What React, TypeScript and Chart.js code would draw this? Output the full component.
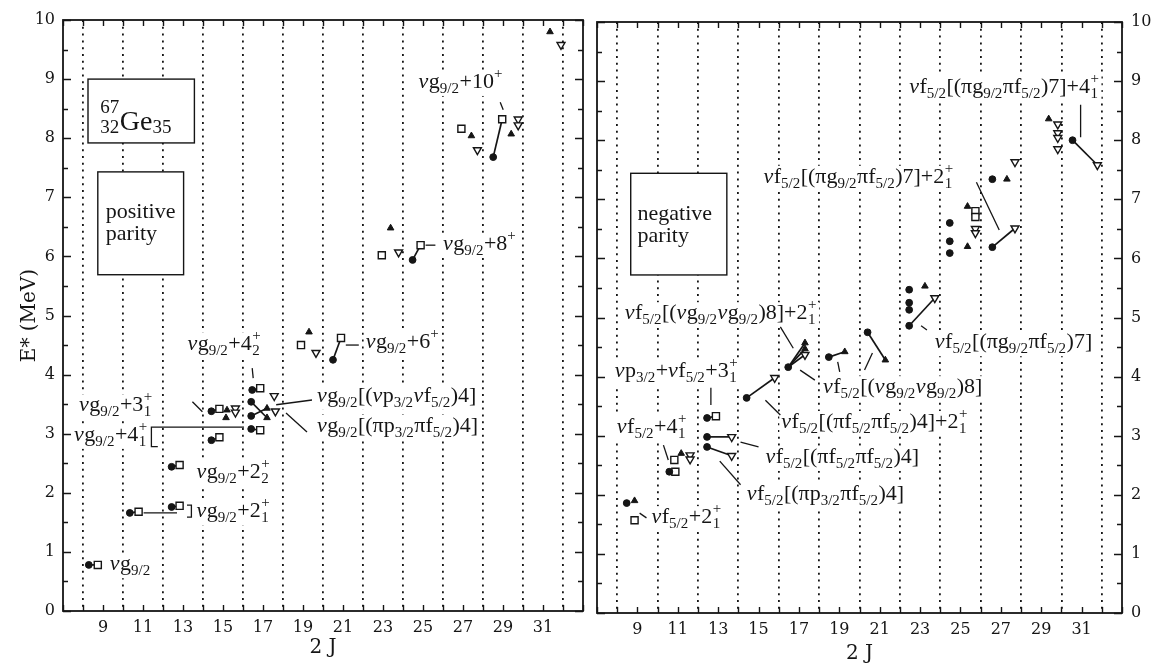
import React, { useEffect, useRef } from 'react';
import { Chart, registerables } from 'chart.js';
Chart.register(...registerables);

type P = [number, number];
type L = [number, number, number, number];

// ---------------- tick labels ----------------
const xTickLabels = [9, 11, 13, 15, 17, 19, 21, 23, 25, 27, 29, 31];
const yTickLabels = [0, 1, 2, 3, 4, 5, 6, 7, 8, 9, 10];

// ---------------- positive parity (left panel) ----------------
const posExp: P[] = [
  [8.29, 0.78], [10.34, 1.66], [12.43, 1.76], [12.43, 2.44], [14.42, 2.89], [14.42, 3.38],
  [16.41, 3.08], [16.41, 3.30], [16.41, 3.54], [16.46, 3.74], [20.5, 4.25], [24.48, 5.94], [28.51, 7.68],
];
const posSquare: P[] = [
  [8.74, 0.78], [10.78, 1.68], [12.83, 1.78], [12.83, 2.47], [14.82, 2.94], [14.82, 3.42],
  [16.86, 3.06], [16.86, 3.77], [18.9, 4.5], [20.9, 4.62], [22.94, 6.02], [24.88, 6.19],
  [26.92, 8.16], [28.96, 8.32],
];
const posTriUp: P[] = [
  [15.2, 3.40], [15.15, 3.27], [17.2, 3.27], [17.2, 3.43], [19.3, 4.72], [23.38, 6.48],
  [27.42, 8.04], [29.41, 8.07], [31.35, 9.8],
];
const posTriDown: P[] = [
  [15.62, 3.43], [15.62, 3.36], [17.56, 3.64], [17.62, 3.38], [19.65, 4.37], [23.78, 6.07],
  [27.72, 7.8], [29.76, 8.32], [29.76, 8.22], [31.9, 9.58],
];
const posLinks: L[] = [
  [8.29, 0.78, 8.74, 0.78], [10.34, 1.66, 10.78, 1.68], [12.43, 1.76, 12.83, 1.78],
  [12.43, 2.44, 12.83, 2.47], [14.42, 2.89, 14.82, 2.94], [14.42, 3.38, 14.82, 3.42],
  [16.41, 3.08, 16.86, 3.06], [16.46, 3.74, 16.86, 3.77], [16.41, 3.54, 17.2, 3.27],
  [16.41, 3.30, 17.2, 3.43], [20.5, 4.25, 20.9, 4.62], [24.48, 5.94, 24.88, 6.19],
  [28.51, 7.68, 28.96, 8.32],
];

// ---------------- negative parity (right panel) ----------------
const negExp: P[] = [
  [8.47, 1.86], [10.58, 2.39], [12.45, 2.81], [12.45, 2.98], [12.45, 3.30], [14.41, 3.64],
  [16.47, 4.16], [18.48, 4.33], [20.4, 4.75], [22.46, 4.86], [22.46, 5.13], [22.46, 5.25],
  [22.46, 5.47], [24.47, 6.09], [24.47, 6.29], [24.47, 6.6], [26.58, 6.19], [26.58, 7.34],
  [30.55, 8.0],
];
const negSquare: P[] = [
  [8.86, 1.57], [10.88, 2.39], [10.83, 2.59], [12.89, 3.33], [25.74, 6.80], [25.74, 6.70],
];
const negTriUp: P[] = [
  [8.86, 1.90], [11.17, 2.70], [17.3, 4.57], [17.3, 4.47], [19.27, 4.42], [21.28, 4.28],
  [23.24, 5.53], [25.35, 6.2], [25.35, 6.88], [27.3, 7.34], [29.37, 8.36],
];
const negTriDown: P[] = [
  [11.61, 2.67], [11.61, 2.60], [13.67, 2.98], [13.67, 2.66], [15.8, 3.98], [17.3, 4.37],
  [23.73, 5.33], [25.74, 6.50], [25.74, 6.43], [27.7, 6.51], [27.7, 7.63], [29.82, 8.27],
  [29.82, 8.12], [29.82, 8.04], [29.82, 7.85], [31.78, 7.58],
];
const negLinks: L[] = [
  [10.58, 2.39, 10.88, 2.39], [12.45, 3.30, 12.89, 3.33], [12.45, 2.98, 13.67, 2.98],
  [12.45, 2.81, 13.67, 2.66], [14.41, 3.64, 15.8, 3.98], [16.47, 4.16, 17.3, 4.57],
  [16.47, 4.16, 17.3, 4.47], [16.47, 4.16, 17.3, 4.37], [18.48, 4.33, 19.27, 4.42],
  [20.4, 4.75, 21.28, 4.28], [22.46, 4.86, 23.73, 5.33], [26.58, 6.19, 27.7, 6.51],
  [30.55, 8.0, 31.78, 7.58],
];

// ---------------- annotations (text, leader lines, boxes) ----------------
// syntax: _{sub} ^{sup} #{sub}{sup} (stacked)
const posLabels = [
  { x: 9.34, y: 0.69, t: 'νg_{9/2}' },
  { x: 13.67, y: 1.59, t: 'νg_{9/2}+2#{1}{+}' },
  { x: 13.67, y: 2.25, t: 'νg_{9/2}+2#{2}{+}' },
  { x: 7.55, y: 2.88, t: 'νg_{9/2}+4#{1}{+}' },
  { x: 7.8, y: 3.38, t: 'νg_{9/2}+3#{1}{+}' },
  { x: 13.22, y: 4.42, t: 'νg_{9/2}+4#{2}{+}' },
  { x: 19.7, y: 3.54, t: 'νg_{9/2}[(νp_{3/2}νf_{5/2})4]' },
  { x: 19.7, y: 3.03, t: 'νg_{9/2}[(πp_{3/2}πf_{5/2})4]' },
  { x: 22.14, y: 4.45, t: 'νg_{9/2}+6^{+}' },
  { x: 26.0, y: 6.11, t: 'νg_{9/2}+8^{+}' },
  { x: 24.78, y: 8.85, t: 'νg_{9/2}+10^{+}' },
];
const posLeaders: number[][] = [
  [13.47, 3.54, 13.97, 3.37],
  [16.46, 4.11, 16.51, 3.94],
  [17.66, 3.49, 19.45, 3.57],
  [18.15, 3.35, 19.2, 3.03],
  [21.14, 4.5, 21.79, 4.5],
  [25.13, 6.19, 25.62, 6.19],
  [28.86, 8.61, 29.01, 8.48],
  [11.03, 1.66, 12.7, 1.66],
  [13.2, 1.79, 13.42, 1.79, 13.42, 1.59, 13.2, 1.59],
  [16.05, 3.11, 11.42, 3.11, 11.42, 2.78, 11.74, 2.78],
];
const posBoxes = [
  { x1: 8.25, y1: 9.0, x2: 13.57, y2: 7.92 },
  { x1: 8.74, y1: 7.43, x2: 13.03, y2: 5.69 },
];
const posBoxTexts = [
  { x: 8.84, y: 8.14, t: '#{32}{67}Ge_{35}', size: 28 },
  { x: 9.14, y: 6.65, t: 'positive', size: 22 },
  { x: 9.14, y: 6.28, t: 'parity', size: 22 },
];

const negLabels = [
  { x: 9.7, y: 1.52, t: 'νf_{5/2}+2#{1}{+}' },
  { x: 7.98, y: 3.05, t: 'νf_{5/2}+4#{1}{+}' },
  { x: 7.88, y: 3.99, t: 'νp_{3/2}+νf_{5/2}+3#{1}{+}' },
  { x: 8.37, y: 4.97, t: 'νf_{5/2}[(νg_{9/2}νg_{9/2})8]+2#{1}{+}' },
  { x: 16.13, y: 3.13, t: 'νf_{5/2}[(πf_{5/2}πf_{5/2})4]+2#{1}{+}' },
  { x: 18.19, y: 3.72, t: 'νf_{5/2}[(νg_{9/2}νg_{9/2})8]' },
  { x: 15.34, y: 2.54, t: 'νf_{5/2}[(πf_{5/2}πf_{5/2})4]' },
  { x: 14.41, y: 1.91, t: 'νf_{5/2}[(πp_{3/2}πf_{5/2})4]' },
  { x: 23.73, y: 4.48, t: 'νf_{5/2}[(πg_{9/2}πf_{5/2})7]' },
  { x: 15.24, y: 7.28, t: 'νf_{5/2}[(πg_{9/2}πf_{5/2})7]+2#{1}{+}' },
  { x: 22.46, y: 8.8, t: 'νf_{5/2}[(πg_{9/2}πf_{5/2})7]+4#{1}{+}' },
];
const negLeaders: number[][] = [
  [9.11, 1.69, 9.45, 1.61],
  [10.29, 2.84, 10.53, 2.59],
  [12.64, 3.81, 12.64, 3.52],
  [16.08, 4.84, 16.72, 4.48],
  [15.34, 3.6, 16.08, 3.35],
  [17.06, 4.11, 17.79, 3.94],
  [18.92, 4.25, 19.02, 4.08],
  [20.25, 4.11, 20.64, 4.4],
  [14.11, 2.89, 15.0, 2.81],
  [13.08, 2.57, 14.11, 2.17],
  [23.05, 4.86, 23.34, 4.79],
  [25.79, 7.29, 26.92, 6.48],
  [30.95, 8.6, 30.95, 8.05],
];
const negBoxes = [{ x1: 8.67, y1: 7.44, x2: 13.43, y2: 5.72 }];
const negBoxTexts = [
  { x: 9.01, y: 6.65, t: 'negative', size: 22 },
  { x: 9.01, y: 6.28, t: 'parity', size: 22 },
];

// ---------------- rendering helpers ----------------
const INK = '#151515';
const SERIF = '"Liberation Serif", "Times New Roman", serif';
const AXIS_FONT = '"DejaVu Serif", serif';

type Seg = { k: 'n' | 'nu' | 'sub' | 'sup' | 'st'; t?: string; a?: string; b?: string };
function parseRich(s: string): Seg[] {
  const segs: Seg[] = [];
  let i = 0;
  let buf = '';
  const flush = () => { if (buf) { segs.push({ k: 'n', t: buf }); buf = ''; } };
  const read = () => { const j = s.indexOf('}', i); const v = s.slice(i + 1, j); i = j + 1; return v; };
  while (i < s.length) {
    const c = s[i];
    if ((c === '_' || c === '^') && s[i + 1] === '{') {
      flush(); i++; segs.push({ k: c === '_' ? 'sub' : 'sup', t: read() });
    } else if (c === '#' && s[i + 1] === '{') {
      flush(); i++; const a = read(); const b = read(); segs.push({ k: 'st', a, b });
    } else if (c === 'ν') {
      flush(); segs.push({ k: 'nu', t: c }); i++;
    } else { buf += c; i++; }
  }
  flush();
  return segs;
}

function layoutRich(ctx: CanvasRenderingContext2D, s: string, size: number, draw: null | { x: number; base: number; sd: number; pd: number }) {
  const big = `${size}px ${SERIF}`;
  const ital = `italic ${size}px ${SERIF}`;
  const small = `${Math.round(size * 0.68)}px ${SERIF}`;
  let x = draw ? draw.x : 0;
  const x0 = x;
  for (const g of parseRich(s)) {
    if (g.k === 'n' || g.k === 'nu') {
      ctx.font = g.k === 'nu' ? ital : big;
      if (draw) ctx.fillText(g.t!, x, draw.base);
      x += ctx.measureText(g.t!).width + (g.k === 'nu' ? 0.5 : 0);
    } else if (g.k === 'sub' || g.k === 'sup') {
      ctx.font = small;
      if (draw) ctx.fillText(g.t!, x, draw.base + (g.k === 'sub' ? draw.sd : draw.pd));
      x += ctx.measureText(g.t!).width + 0.5;
    } else {
      ctx.font = small;
      if (draw) {
        ctx.fillText(g.a!, x + 0.5, draw.base + draw.sd);
        ctx.fillText(g.b!, x + 0.5, draw.base + draw.pd);
      }
      x += Math.max(ctx.measureText(g.a!).width, ctx.measureText(g.b!).width) + 1;
    }
  }
  return x - x0;
}

function drawRich(ctx: CanvasRenderingContext2D, s: string, x: number, base: number, size: number, sd: number, pd: number) {
  ctx.textAlign = 'left';
  ctx.textBaseline = 'alphabetic';
  ctx.fillStyle = INK;
  layoutRich(ctx, s, size, { x, base, sd, pd });
}

interface PanelSpec {
  id: string;
  exp: P[]; sq: P[]; up: P[]; down: P[]; links: L[];
  labels: { x: number; y: number; t: string }[];
  leaders: number[][];
  boxes: { x1: number; y1: number; x2: number; y2: number }[];
  boxTexts: { x: number; y: number; t: string; size: number }[];
  side: 'left' | 'right';
}

function makePlugin(spec: PanelSpec) {
  return {
    id: 'annot_' + spec.id,
    beforeDatasetsDraw(chart: any) {
      const { ctx } = chart;
      const xs = chart.scales.x, ys = chart.scales.y;
      const X = (v: number) => xs.getPixelForValue(v);
      const Y = (v: number) => ys.getPixelForValue(v);
      ctx.save();
      for (const l of spec.labels) {
        const w = layoutRich(ctx, l.t, 22, null);
        ctx.fillStyle = '#fff';
        ctx.fillRect(X(l.x) - 2, Y(l.y) - 17, w + 4, 25);
      }
      for (const b of spec.boxes) {
        const x1 = X(b.x1), y1 = Y(b.y1), x2 = X(b.x2), y2 = Y(b.y2);
        ctx.fillStyle = '#fff';
        ctx.fillRect(x1, y1, x2 - x1, y2 - y1);
        ctx.lineWidth = 1.4;
        ctx.strokeStyle = INK;
        ctx.strokeRect(x1, y1, x2 - x1, y2 - y1);
      }
      for (const t of spec.boxTexts) {
        if (t.size > 24) drawRich(ctx, t.t, X(t.x), Y(t.y), t.size, 3, -17);
        else drawRich(ctx, t.t, X(t.x), Y(t.y), t.size, 5, -10);
      }
      for (const l of spec.labels) drawRich(ctx, l.t, X(l.x), Y(l.y), 22, 5, -10);
      ctx.strokeStyle = INK;
      ctx.lineWidth = 1.3;
      for (const ld of spec.leaders) {
        ctx.beginPath();
        for (let i = 0; i < ld.length; i += 2) {
          const px = X(ld[i]), py = Y(ld[i + 1]);
          if (i === 0) ctx.moveTo(px, py); else ctx.lineTo(px, py);
        }
        ctx.stroke();
      }
      ctx.restore();
    },
    afterDatasetsDraw(chart: any) {
      const { ctx, chartArea: a } = chart;
      const xs = chart.scales.x, ys = chart.scales.y;
      ctx.save();
      ctx.strokeStyle = INK;
      ctx.lineWidth = 1.4;
      ctx.beginPath();
      for (let v = 0; v <= 10.001; v += 0.5) {
        const py = Math.round(ys.getPixelForValue(v)) + 0.5;
        const len = Math.abs(v - Math.round(v)) < 1e-6 ? 8 : 5;
        ctx.moveTo(a.left, py); ctx.lineTo(a.left + len, py);
        ctx.moveTo(a.right, py); ctx.lineTo(a.right - len, py);
      }
      for (let v = 7; v <= 33; v += 1) {
        const px = Math.round(xs.getPixelForValue(v)) + 0.5;
        ctx.moveTo(px, a.bottom); ctx.lineTo(px, a.bottom - 6);
        ctx.moveTo(px, a.top); ctx.lineTo(px, a.top + 6);
      }
      ctx.stroke();
      ctx.lineWidth = 1.8;
      ctx.strokeRect(a.left, a.top, a.right - a.left, a.bottom - a.top);
      ctx.restore();
    },
  };
}

function buildDatasets(spec: PanelSpec) {
  const pts = (arr: P[]) => arr.map(([x, y]) => ({ x, y }));
  const markers: any[] = [
    { label: 'exp', data: pts(spec.exp), pointStyle: 'circle', pointRadius: 3.4, pointBackgroundColor: INK, pointBorderColor: INK, pointBorderWidth: 1, showLine: false },
    { label: 'calc-a', data: pts(spec.sq), pointStyle: 'rect', pointRadius: 5, pointBackgroundColor: '#fff', pointBorderColor: INK, pointBorderWidth: 1.4, showLine: false },
    { label: 'calc-b', data: pts(spec.up), pointStyle: 'triangle', pointRadius: 3.8, pointBackgroundColor: INK, pointBorderColor: INK, pointBorderWidth: 1, showLine: false },
    { label: 'calc-c', data: pts(spec.down), pointStyle: 'triangle', pointRotation: 180, pointRadius: 4.6, pointBackgroundColor: '#fff', pointBorderColor: INK, pointBorderWidth: 1.4, showLine: false },
  ];
  const links = spec.links.map(([x1, y1, x2, y2], i) => ({
    label: 'link' + i, data: [{ x: x1, y: y1 }, { x: x2, y: y2 }], showLine: true,
    pointRadius: 0, pointHoverRadius: 0, borderColor: INK, borderWidth: 1.7, fill: false,
  }));
  return [...markers, ...links];
}

function makeConfig(spec: PanelSpec): any {
  const isLeft = spec.side === 'left';
  return {
    type: 'scatter',
    data: { datasets: buildDatasets(spec) },
    options: {
      responsive: false,
      animation: false,
      devicePixelRatio: 1,
      events: [],
      layout: { padding: isLeft ? { left: 0, right: 5, top: 20, bottom: 0 } : { left: 2, right: 0, top: 22, bottom: 0 } },
      plugins: { legend: { display: false }, tooltip: { enabled: false }, title: { display: false } },
      scales: {
        x: {
          type: 'linear', position: 'bottom', min: 7, max: 33,
          afterFit: (s: any) => { s.height = isLeft ? 55 : 53; },
          ticks: {
            stepSize: 1, autoSkip: false, maxRotation: 0, minRotation: 0, padding: 7, color: INK,
            font: { family: AXIS_FONT, size: 16 },
            callback: (v: any) => (xTickLabels.includes(Number(v)) ? String(v) : ''),
          },
          grid: {
            display: true, drawTicks: false, lineWidth: 1.8,
            color: (c: any) => {
              const v = c.tick ? c.tick.value : NaN;
              return v % 2 === 0 && v > 7 && v < 33 ? INK : 'rgba(0,0,0,0)';
            },
          },
          border: { display: false, dash: [2, 4.8] },
          title: { display: true, text: '2 J', color: INK, font: { family: AXIS_FONT, size: 20 }, padding: { top: 0, bottom: isLeft ? 6 : 0 } },
        },
        y: {
          type: 'linear', position: isLeft ? 'left' : 'right', min: 0, max: 10,
          afterFit: (s: any) => { s.width = isLeft ? 63 : 43; },
          ticks: {
            stepSize: 1, padding: isLeft ? 8 : 9, color: INK, font: { family: AXIS_FONT, size: 16 },
            callback: (v: any) => (yTickLabels.includes(Number(v)) ? String(v) : ''),
          },
          grid: { display: false, drawTicks: false },
          border: { display: false },
          title: isLeft
            ? { display: true, text: 'E* (MeV)', color: INK, font: { family: AXIS_FONT, size: 20 }, padding: { top: 18, bottom: 0 } }
            : { display: false },
        },
      },
    },
    plugins: [makePlugin(spec)],
  };
}

const leftSpec: PanelSpec = {
  id: 'pos', side: 'left', exp: posExp, sq: posSquare, up: posTriUp, down: posTriDown, links: posLinks,
  labels: posLabels, leaders: posLeaders, boxes: posBoxes, boxTexts: posBoxTexts,
};
const rightSpec: PanelSpec = {
  id: 'neg', side: 'right', exp: negExp, sq: negSquare, up: negTriUp, down: negTriDown, links: negLinks,
  labels: negLabels, leaders: negLeaders, boxes: negBoxes, boxTexts: negBoxTexts,
};

export default function App() {
  const lRef = useRef<HTMLCanvasElement>(null);
  const rRef = useRef<HTMLCanvasElement>(null);
  useEffect(() => {
    document.body.style.margin = '0';
    document.body.style.background = '#fff';
    const c1 = new Chart(lRef.current as HTMLCanvasElement, makeConfig(leftSpec));
    const c2 = new Chart(rRef.current as HTMLCanvasElement, makeConfig(rightSpec));
    return () => { c1.destroy(); c2.destroy(); };
  }, []);
  return (
    <div style={{ position: 'relative', width: 1165, height: 666, background: '#fff', overflow: 'hidden' }}>
      <canvas ref={lRef} width={590} height={666} style={{ position: 'absolute', left: 0, top: 0, width: 590, height: 666 }} />
      <canvas ref={rRef} width={575} height={666} style={{ position: 'absolute', left: 590, top: 0, width: 575, height: 666 }} />
    </div>
  );
}
